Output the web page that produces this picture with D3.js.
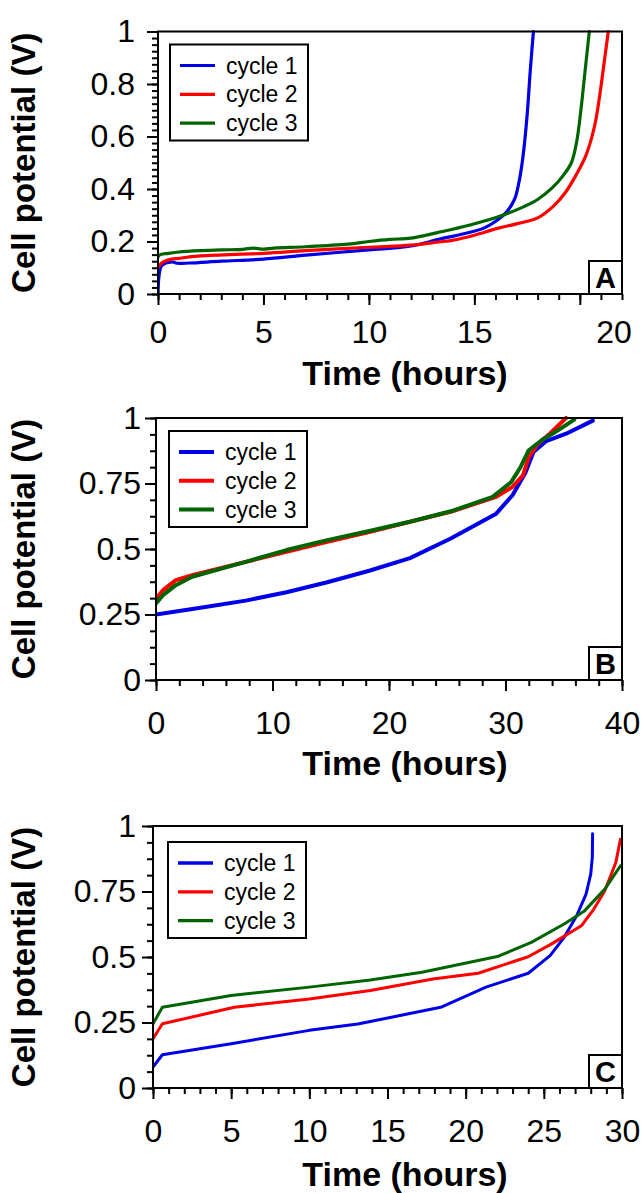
<!DOCTYPE html>
<meta charset="utf-8">
<script src="https://d3js.org/d3.v7.min.js"></script>
<style>
body { margin: 0; background: #fff; }
text { font-family: "Liberation Sans", Arial, Helvetica, sans-serif; fill: #000; }
</style>
<body>
<div id="canvas"></div>
<script>

// series names and colours
var seriesNames = ["cycle 1", "cycle 2", "cycle 3"];
var colors = ["#0000e8", "#ff0000", "#006400"];

// panel A : [time (h), potential (V)]
var aCycle1 = [[0,0],[0.05,0.07],[0.15,0.105],[0.3,0.115],[0.5,0.12],[0.7,0.122],[0.9,0.117],[1.5,0.118],[3,0.125],[5,0.133],[7,0.148],[10,0.168],[12,0.183],[13.3,0.208],[14.8,0.235],[15.5,0.253],[16.1,0.282],[16.5,0.31],[16.9,0.36],[17.1,0.42],[17.3,0.52],[17.5,0.68],[17.65,0.85],[17.8,1.0]];
var aCycle2 = [[0,0.1],[0.2,0.12],[0.5,0.13],[1,0.136],[2,0.145],[5,0.155],[7,0.165],[10,0.178],[12,0.186],[13.3,0.198],[14,0.205],[15,0.224],[16.1,0.25],[17,0.267],[18,0.29],[18.75,0.335],[19.3,0.385],[19.8,0.45],[20.3,0.53],[20.7,0.64],[20.95,0.76],[21.15,0.88],[21.35,1.0]];
var aCycle3 = [[0,0],[0.02,0.145],[0.5,0.155],[1,0.16],[2,0.165],[3,0.168],[4,0.17],[4.5,0.175],[5,0.171],[5.5,0.175],[7,0.18],[9,0.19],[10,0.2],[11,0.208],[12,0.213],[13.3,0.235],[14.8,0.263],[16.1,0.293],[17.35,0.333],[18,0.36],[18.7,0.405],[19.2,0.45],[19.6,0.5],[19.85,0.58],[20.05,0.7],[20.25,0.85],[20.45,1.0]];

// panel B
var bCycle1 = [[0,0.25],[4.1,0.278],[7.7,0.303],[11.2,0.335],[14.7,0.373],[18.3,0.417],[21.8,0.465],[25.3,0.54],[29.2,0.635],[30.6,0.705],[31.7,0.79],[32.4,0.87],[33.5,0.912],[35.2,0.94],[37.5,0.99]];
var bCycle2 = [[0,0.31],[0.6,0.343],[1.7,0.381],[3.1,0.4],[7.7,0.451],[11.2,0.489],[14.7,0.527],[18.3,0.565],[21.8,0.604],[25.3,0.642],[29.2,0.699],[30.6,0.737],[31.5,0.781],[32,0.851],[32.8,0.902],[33.8,0.94],[35.2,1.0]];
var bCycle3 = [[0,0.292],[0.6,0.324],[1.7,0.362],[3.1,0.394],[7.7,0.451],[11.2,0.496],[14.7,0.534],[18.3,0.569],[21.8,0.604],[25.3,0.644],[28.9,0.699],[30.5,0.756],[31.3,0.813],[32,0.877],[33.1,0.915],[34.5,0.953],[35.9,0.994]];

// panel C
var cCycle1 = [[0,0.08],[0.6,0.127],[5,0.169],[10,0.22],[13.1,0.244],[15.25,0.27],[18.4,0.308],[21.3,0.385],[24,0.438],[25.4,0.505],[26.3,0.575],[27.1,0.657],[27.7,0.74],[28,0.816],[28.1,0.88],[28.12,0.97]];
var cCycle2 = [[0,0.188],[0.6,0.245],[5.2,0.308],[10,0.34],[13.9,0.372],[17.9,0.416],[20.8,0.438],[24,0.501],[25.5,0.55],[27.4,0.619],[28.2,0.683],[28.9,0.753],[29.6,0.86],[29.9,0.949]];
var cCycle3 = [[0,0.245],[0.6,0.308],[5,0.353],[10,0.385],[13.9,0.412],[17.2,0.442],[22.1,0.503],[24.2,0.556],[26.3,0.626],[27.6,0.676],[28.9,0.759],[29.9,0.848]];

// axes
var aXMajor = [0, 5, 10, 15, 20];
var aXLabelPos = [0, 5, 10, 15, 21.6];   // the "20" label sits near the axis end in the original
var aXLabels = ["0", "5", "10", "15", "20"];
var aYMajor = [0, 0.2, 0.4, 0.6, 0.8, 1];
var bXMajor = [0, 10, 20, 30, 40];
var cXMajor = [0, 5, 10, 15, 20, 25, 30];
var qYMajor = [0, 0.25, 0.5, 0.75, 1];

var W = 644, H = 1193;
var svg = d3.select("#canvas").append("svg")
    .attr("width", W).attr("height", H);

var panels = [
    { left: 158, right: 622, top: 31.5, bottom: 294, xMax: 22, xMajor: aXMajor, xMinorStep: 1,
      xLabelPos: aXLabelPos, xLabels: aXLabels, yMajor: aYMajor, yMinorStep: 0.025,
      series: [aCycle1, aCycle2, aCycle3], letter: "A", width: 3.2, legW: 3.2, curve: d3.curveCatmullRom.alpha(0.5),
      yLabelGap: 23, xLabelPad: 26, titleOff: 91, legendDx: 12, legendDy: 13 },
    { left: 156, right: 622, top: 418, bottom: 680, xMax: 40, xMajor: bXMajor, xMinorStep: 2,
      xLabelPos: bXMajor, xLabels: bXMajor.map(String), yMajor: qYMajor, yMinorStep: 0.0625,
      series: [bCycle1, bCycle2, bCycle3], letter: "B", width: 4, legW: 4, curve: d3.curveLinear,
      yLabelGap: 15, xLabelPad: 31, titleOff: 95, legendDx: 13, legendDy: 13 },
    { left: 153, right: 622, top: 826, bottom: 1088, xMax: 30, xMajor: cXMajor, xMinorStep: 1,
      xLabelPos: cXMajor, xLabels: cXMajor.map(String), yMajor: qYMajor, yMinorStep: 0.0625,
      series: [cCycle1, cCycle2, cCycle3], letter: "C", width: 3, legW: 3.3, curve: d3.curveLinear,
      yLabelGap: 17, xLabelPad: 31, titleOff: 98, legendDx: 15, legendDy: 16 }
];

panels.forEach(function(p, pi) {
    var x = d3.scaleLinear().domain([0, p.xMax]).range([p.left, p.right]);
    var y = d3.scaleLinear().domain([0, 1]).range([p.bottom, p.top]);
    var g = svg.append("g");

    var xMinor = d3.range(0, p.xMax + 1e-9, p.xMinorStep);
    var yMinor = d3.range(0, 1 + 1e-9, p.yMinorStep);

    // minor and major ticks (outward)
    function ticks(axis, vals, size, tr) {
        var a = g.append("g").attr("transform", tr)
            .call(axis.tickValues(vals).tickSize(size).tickFormat(""));
        a.select(".domain").remove();
        a.selectAll("line").attr("stroke", "#000").attr("stroke-width", 2);
    }
    ticks(d3.axisBottom(x), xMinor, 6, "translate(0," + p.bottom + ")");
    ticks(d3.axisBottom(x), p.xMajor, 11, "translate(0," + p.bottom + ")");
    ticks(d3.axisLeft(y), yMinor, 6, "translate(" + p.left + ",0)");
    ticks(d3.axisLeft(y), p.yMajor, 11, "translate(" + p.left + ",0)");

    // tick labels
    var xl = g.append("g").attr("transform", "translate(0," + p.bottom + ")")
        .call(d3.axisBottom(x).tickValues(p.xLabelPos).tickSize(0).tickPadding(p.xLabelPad)
            .tickFormat(function(d, i) { return p.xLabels[i]; }));
    xl.select(".domain").remove();
    xl.selectAll("text").attr("font-size", 32).attr("font-family", null);

    var yl = g.append("g").attr("transform", "translate(" + p.left + ",0)")
        .call(d3.axisLeft(y).tickValues(p.yMajor).tickSize(0).tickPadding(p.yLabelGap)
            .tickFormat(d3.format("")));
    yl.select(".domain").remove();
    yl.selectAll("text").attr("font-size", 32).attr("font-family", null);

    // curves
    var clipId = "clip" + pi;
    svg.append("clipPath").attr("id", clipId).append("rect")
        .attr("x", p.left).attr("y", p.top - 2)
        .attr("width", p.right - p.left).attr("height", p.bottom - p.top + 2);
    var line = d3.line().x(function(d) { return x(d[0]); }).y(function(d) { return y(d[1]); }).curve(p.curve);
    g.append("g").attr("clip-path", "url(#" + clipId + ")")
        .selectAll("path").data(p.series).enter().append("path")
        .attr("d", line)
        .attr("fill", "none")
        .attr("stroke", function(d, i) { return colors[i]; })
        .attr("stroke-width", p.width)
        .attr("stroke-linejoin", "round")
        .attr("stroke-linecap", "round");

    // frame
    g.append("rect")
        .attr("x", p.left).attr("y", p.top)
        .attr("width", p.right - p.left).attr("height", p.bottom - p.top)
        .attr("fill", "none").attr("stroke", "#000").attr("stroke-width", 2);

    // panel letter box
    g.append("rect")
        .attr("x", p.right - 33).attr("y", p.bottom - 33)
        .attr("width", 33).attr("height", 33)
        .attr("fill", "#fff").attr("stroke", "#000").attr("stroke-width", 2);
    g.append("text")
        .attr("x", p.right - 16.5).attr("y", p.bottom - 6)
        .attr("text-anchor", "middle")
        .attr("font-size", 29).attr("font-weight", "bold")
        .text(p.letter);

    // legend
    var lx = p.left + p.legendDx, ly = p.top + p.legendDy;
    g.append("rect")
        .attr("x", lx).attr("y", ly).attr("width", 138).attr("height", 96)
        .attr("fill", "#fff").attr("stroke", "#000").attr("stroke-width", 2);
    var leg = g.selectAll(".legend").data(seriesNames).enter().append("g")
        .attr("transform", function(d, i) { return "translate(" + lx + "," + (ly + 21 + i * 28.8) + ")"; });
    leg.append("line")
        .attr("x1", 10).attr("x2", 45)
        .attr("stroke", function(d, i) { return colors[i]; })
        .attr("stroke-width", p.legW);
    leg.append("text")
        .attr("x", 56).attr("dy", "0.35em")
        .attr("font-size", 23)
        .text(function(d) { return d; });

    // axis titles
    g.append("text")
        .attr("x", 405).attr("y", p.bottom + p.titleOff)
        .attr("text-anchor", "middle")
        .attr("font-size", 34).attr("font-weight", "bold")
        .text("Time (hours)");
    g.append("text")
        .attr("transform", "translate(35," + ((p.top + p.bottom) / 2) + ") rotate(-90)")
        .attr("text-anchor", "middle")
        .attr("font-size", 33).attr("font-weight", "bold")
        .text("Cell potential (V)");
});

</script>
</body>
